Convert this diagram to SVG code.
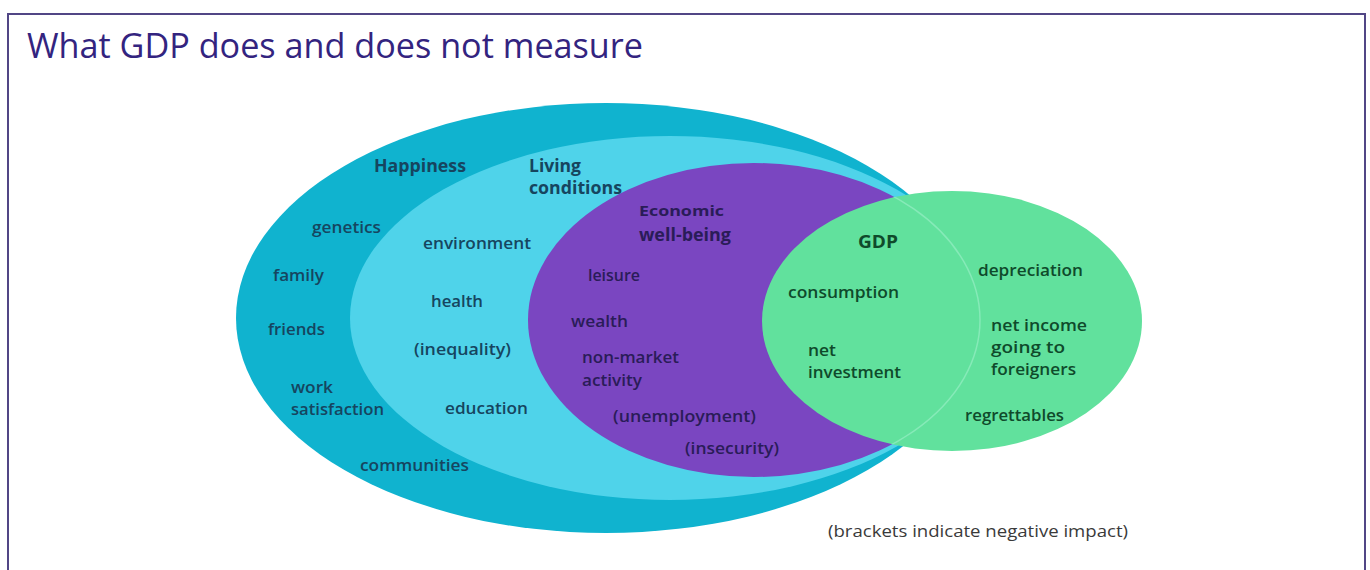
<svg xmlns="http://www.w3.org/2000/svg" width="1370" height="570" viewBox="0 0 1370 570">
<style>
  text { font-family: "Open Sans", "Noto Sans", "Liberation Sans", sans-serif; font-size: 17px; font-weight: 600; }
  .t { fill: #16455f; }
  .p { fill: #2a1c58; }
  .g { fill: #0f4a2b; }
  .h { font-weight: 700; }
  .title { font-size: 35px; font-weight: 400; fill: #33247f; }
  .note { font-size: 16px; font-weight: 400; fill: #3a3a3a; }
</style>
<defs>
  <clipPath id="greenClip"><ellipse cx="952" cy="321" rx="190" ry="130"/></clipPath>
</defs>
<rect x="0" y="0" width="1370" height="570" fill="#ffffff"/>
<rect id="frame" x="8" y="14" width="1357" height="580" fill="#ffffff" stroke="#514685" stroke-width="2"/>
<text id="title" class="title" x="27" y="58" textLength="616" lengthAdjust="spacingAndGlyphs">What GDP does and does not measure</text>

<g id="happiness">
  <ellipse cx="606" cy="318" rx="370" ry="215" fill="#10b3cf"/>
</g>
<g id="living-conditions">
  <ellipse cx="670" cy="318" rx="320" ry="182" fill="#4fd3ea"/>
</g>
<g id="economic-well-being">
  <ellipse cx="754" cy="320" rx="226" ry="157" fill="#7a46c1"/>
</g>
<g id="gdp">
  <ellipse cx="952" cy="321" rx="190" ry="130" fill="#61e19d"/>
  <ellipse cx="754" cy="320" rx="226" ry="157" fill="none" stroke="#86eab8" stroke-width="1.5" clip-path="url(#greenClip)"/>
</g>
<g id="connectors"></g>

<g id="happiness-labels">
  <text class="t h" x="374" y="172" textLength="92" lengthAdjust="spacingAndGlyphs">Happiness</text>
  <text class="t" x="312" y="233" textLength="69" lengthAdjust="spacingAndGlyphs">genetics</text>
  <text class="t" x="273" y="281" textLength="51" lengthAdjust="spacingAndGlyphs">family</text>
  <text class="t" x="268" y="335" textLength="57" lengthAdjust="spacingAndGlyphs">friends</text>
  <text class="t" x="291" y="393" textLength="42" lengthAdjust="spacingAndGlyphs">work</text>
  <text class="t" x="291" y="415" textLength="93" lengthAdjust="spacingAndGlyphs">satisfaction</text>
  <text class="t" x="360" y="471" textLength="109" lengthAdjust="spacingAndGlyphs">communities</text>
</g>
<g id="living-labels">
  <text class="t h" x="529" y="172" textLength="52" lengthAdjust="spacingAndGlyphs">Living</text>
  <text class="t h" x="529" y="194" textLength="93" lengthAdjust="spacingAndGlyphs">conditions</text>
  <text class="t" x="423" y="249" textLength="108" lengthAdjust="spacingAndGlyphs">environment</text>
  <text class="t" x="431" y="307" textLength="52" lengthAdjust="spacingAndGlyphs">health</text>
  <text class="t" x="414" y="355" textLength="97" lengthAdjust="spacingAndGlyphs">(inequality)</text>
  <text class="t" x="445" y="414" textLength="83" lengthAdjust="spacingAndGlyphs">education</text>
</g>
<g id="economic-labels">
  <text class="p h" x="639" y="216" style="font-size:15px" textLength="85" lengthAdjust="spacingAndGlyphs">Economic</text>
  <text class="p h" x="639" y="241" textLength="92" lengthAdjust="spacingAndGlyphs">well-being</text>
  <text class="p" x="588" y="281" textLength="52" lengthAdjust="spacingAndGlyphs">leisure</text>
  <text class="p" x="571" y="327" textLength="57" lengthAdjust="spacingAndGlyphs">wealth</text>
  <text class="p" x="582" y="363" textLength="97" lengthAdjust="spacingAndGlyphs">non-market</text>
  <text class="p" x="582" y="386" textLength="60" lengthAdjust="spacingAndGlyphs">activity</text>
  <text class="p" x="613" y="422" textLength="143" lengthAdjust="spacingAndGlyphs">(unemployment)</text>
  <text class="p" x="685" y="454" textLength="94" lengthAdjust="spacingAndGlyphs">(insecurity)</text>
</g>
<g id="gdp-labels">
  <text class="g h" x="858" y="248" textLength="40" lengthAdjust="spacingAndGlyphs">GDP</text>
  <text class="g" x="788" y="298" textLength="111" lengthAdjust="spacingAndGlyphs">consumption</text>
  <text class="g" x="808" y="356" textLength="28" lengthAdjust="spacingAndGlyphs">net</text>
  <text class="g" x="808" y="378" textLength="93" lengthAdjust="spacingAndGlyphs">investment</text>
  <text class="g" x="978" y="276" textLength="105" lengthAdjust="spacingAndGlyphs">depreciation</text>
  <text class="g" x="991" y="331" textLength="96" lengthAdjust="spacingAndGlyphs">net income</text>
  <text class="g" x="991" y="353" textLength="74" lengthAdjust="spacingAndGlyphs">going to</text>
  <text class="g" x="991" y="375" textLength="85" lengthAdjust="spacingAndGlyphs">foreigners</text>
  <text class="g" x="965" y="421" textLength="99" lengthAdjust="spacingAndGlyphs">regrettables</text>
</g>
<text id="note" class="note" x="828" y="537" textLength="300" lengthAdjust="spacingAndGlyphs">(brackets indicate negative impact)</text>
</svg>
